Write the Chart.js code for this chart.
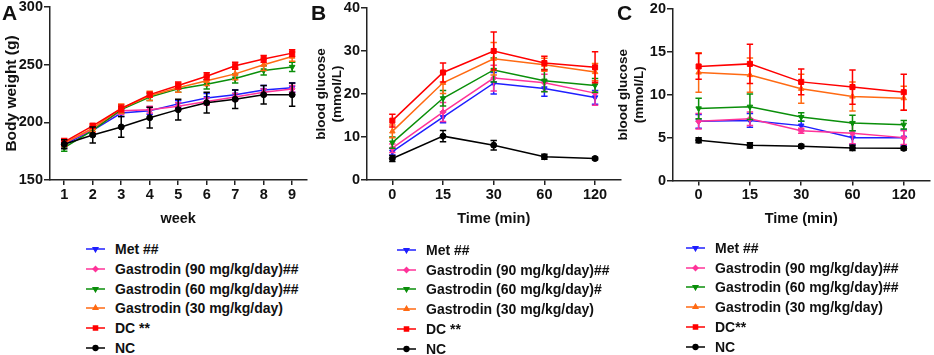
<!DOCTYPE html>
<html>
<head>
<meta charset="utf-8">
<script src="https://cdn.jsdelivr.net/npm/chart.js@4.4.1/dist/chart.umd.min.js"></script>
<style>
  html, body { margin: 0; padding: 0; background: #fff; }
  body { width: 934px; height: 355px; position: relative; overflow: hidden;
         font-family: 'Liberation Sans', Arial, sans-serif; }
  canvas.chart { position: absolute; top: 0; }
  .letter { position: absolute; font-weight: bold; font-size: 21px; line-height: 21px; color: #111; }
  .row { position: absolute; height: 18px; white-space: nowrap; }
  .row canvas { position: absolute; top: 5px; left: 0; }
  .row span { position: absolute; top: 0; font-weight: bold; font-size: 14px; line-height: 18px; color: #111; }
</style>
</head>
<body>
<canvas id="cA" class="chart" width="311" height="232" style="left:0px"></canvas>
<canvas id="cB" class="chart" width="320" height="232" style="left:305px"></canvas>
<canvas id="cC" class="chart" width="319" height="232" style="left:615px"></canvas>
<div class="letter" style="left:2px;top:2px">A</div>
<div class="letter" style="left:311px;top:2px">B</div>
<div class="letter" style="left:617px;top:2px">C</div>
<div id="legA"></div><div id="legB"></div><div id="legC"></div>
<script>
// ---------- categories ----------
const weekLabels = ['1', '2', '3', '4', '5', '6', '7', '8', '9'];
const timeLabels = ['0', '15', '30', '60', '120'];

// ---------- legend labels ----------
const legendA = ['Met ##', 'Gastrodin (90 mg/kg/day)##', 'Gastrodin (60 mg/kg/day)##', 'Gastrodin (30 mg/kg/day)', 'DC **', 'NC'];
const legendB = ['Met ##', 'Gastrodin (90 mg/kg/day)##', 'Gastrodin (60 mg/kg/day)#', 'Gastrodin (30 mg/kg/day)', 'DC **', 'NC'];
const legendC = ['Met  ##', 'Gastrodin (90 mg/kg/day)##', 'Gastrodin (60 mg/kg/day)##', 'Gastrodin (30 mg/kg/day)', 'DC**', 'NC'];

// ---------- A: body weight (g) ----------
const bwMet = [181, 193, 208, 210, 216, 221, 224, 228, 230];
const bwG90 = [182, 194, 210, 211, 214, 218, 222, 226, 229];
const bwG60 = [178, 193, 211, 222, 229, 233, 238, 245, 248];
const bwG30 = [182, 195, 212, 223, 230, 236, 242, 250, 257];
const bwDC  = [183, 197, 212, 224, 232, 240, 249, 255, 260];
const bwNC  = [181, 189, 196, 204, 211, 217, 220, 224, 224];
const bwMetSd = [3, 3, 3, 3, 3, 4, 4, 4, 4];
const bwG90Sd = [3, 3, 3, 3, 3, 3, 3, 3, 3];
const bwG60Sd = [3, 3, 3, 3, 3, 4, 4, 4, 4];
const bwG30Sd = [3, 3, 4, 4, 4, 4, 5, 5, 4];
const bwDCSd  = [3, 2, 3, 2, 3, 3, 3, 3, 3];
const bwNCSd  = [4, 7, 9, 9, 9, 9, 8, 8, 10];

// ---------- B: blood glucose, OGTT (mmol/L) ----------
const ogMet = [6.6, 14.6, 22.5, 21.3, 19.2];
const ogG90 = [7.4, 15.8, 23.7, 22.6, 20.2];
const ogG60 = [8.7, 19.0, 25.6, 23.1, 22.0];
const ogG30 = [11.3, 22.6, 28.2, 26.8, 25.1];
const ogDC  = [13.8, 25.0, 30.0, 27.2, 26.2];
const ogNC  = [5.0, 10.2, 8.1, 5.4, 5.0];
const ogMetSd = [0.8, 1.3, 2.5, 1.8, 1.6];
const ogG90Sd = [1.0, 2.2, 3.0, 2.0, 2.8];
const ogG60Sd = [1.3, 1.8, 2.8, 2.6, 1.6];
const ogG30Sd = [1.5, 2.5, 3.8, 1.5, 2.0];
const ogDCSd  = [1.5, 2.2, 4.4, 1.6, 3.6];
const ogNCSd  = [0.7, 1.3, 1.1, 0.6, 0.3];

// ---------- C: blood glucose, ITT (mmol/L) ----------
const itMet = [6.9, 7.0, 6.4, 5.0, 5.0];
const itG90 = [6.9, 7.2, 5.8, 5.5, 5.0];
const itG60 = [8.4, 8.6, 7.4, 6.7, 6.5];
const itG30 = [12.6, 12.3, 10.7, 9.8, 9.6];
const itDC  = [13.3, 13.6, 11.5, 10.9, 10.3];
const itNC  = [4.7, 4.1, 4.0, 3.8, 3.75];
const itMetSd = [0.8, 0.8, 0.5, 0.8, 0.9];
const itG90Sd = [0.9, 0.8, 0.3, 1.2, 0.8];
const itG60Sd = [1.2, 1.5, 0.5, 0.9, 0.5];
const itG30Sd = [2.3, 2.0, 1.7, 1.7, 1.4];
const itDCSd  = [1.5, 2.3, 1.5, 2.0, 2.1];
const itNCSd  = [0.3, 0.3, 0.2, 0.3, 0.2];

// ---------- styles ----------
const colors = ['#1f1fff', '#ff3399', '#0a8f0a', '#ff6a13', '#ff0000', '#000000'];
const shapes = ['triangle', 'rectRot', 'triangle', 'triangle', 'rect', 'circle'];
const rotations = [180, 0, 180, 0, 0, 0];
const radii = [3.2, 3, 3.2, 3.2, 3.6, 3];
const FONT = "'Liberation Sans', Arial, sans-serif";
const AXIS = '#222';

const errorBars = {
  id: 'errorBars',
  afterDatasetDraw(chart, args) {
    const ds = chart.data.datasets[args.index];
    if (!ds.sd) return;
    const y = chart.scales.y, ctx = chart.ctx;
    ctx.save();
    ctx.strokeStyle = ds.borderColor;
    ctx.lineWidth = 1.5;
    args.meta.data.forEach((pt, i) => {
      const v = ds.data[i], s = ds.sd[i];
      const t = y.getPixelForValue(v + s), b = y.getPixelForValue(v - s);
      ctx.beginPath();
      ctx.moveTo(pt.x, t); ctx.lineTo(pt.x, b);
      ctx.moveTo(pt.x - 3.2, t); ctx.lineTo(pt.x + 3.2, t);
      ctx.moveTo(pt.x - 3.2, b); ctx.lineTo(pt.x + 3.2, b);
      ctx.stroke();
    });
    ctx.restore();
  }
};

function makeDatasets(names, values, sds) {
  return names.map((n, i) => ({
    label: n, data: values[i], sd: sds[i],
    borderColor: colors[i], backgroundColor: colors[i],
    borderWidth: 1.5, pointStyle: shapes[i], pointRotation: rotations[i],
    pointRadius: radii[i], pointBorderWidth: 1, pointHoverRadius: radii[i],
    tension: 0, order: 6 - i
  }));
}

function makeChart(id, labels, datasets, cfg) {
  return new Chart(document.getElementById(id), {
    type: 'line',
    data: { labels, datasets },
    plugins: [errorBars],
    options: {
      responsive: false, animation: false, events: [],
      layout: { padding: { left: 0, top: cfg.padTop, right: cfg.padRight, bottom: 0 } },
      plugins: { legend: { display: false }, tooltip: { enabled: false } },
      scales: {
        x: {
          type: 'category', offset: true,
          grid: { display: true, drawOnChartArea: false, offset: false, tickLength: 5, color: AXIS, lineWidth: 1.5 },
          border: { display: true, color: AXIS, width: 1.5 },
          ticks: { color: '#111', font: { family: FONT, size: 14.5, weight: 'bold' }, padding: 1, maxRotation: 0 },
          title: { display: true, text: cfg.xTitle, color: '#111',
                   font: { family: FONT, size: 14.5, weight: 'bold' }, padding: { top: 0, bottom: 4.5 } },
          afterFit(s) { s.height = cfg.xHeight; }
        },
        y: {
          min: cfg.min, max: cfg.max,
          grid: { display: true, drawOnChartArea: false, tickLength: 6, color: AXIS, lineWidth: 1.5 },
          border: { display: true, color: AXIS, width: 1.5 },
          ticks: { stepSize: cfg.step, color: '#111', font: { family: FONT, size: 14.5, weight: 'bold' }, padding: 1 },
          title: { display: true, text: cfg.yTitle, color: '#111',
                   font: { family: FONT, size: cfg.yTitleSize, weight: 'bold', lineHeight: 1.2 },
                   padding: { top: cfg.yTitlePad, bottom: 0 } },
          afterFit(s) { s.width = cfg.yWidth; s.paddingTop = 0; s.paddingBottom = 0; }
        }
      }
    }
  });
}

makeChart('cA', weekLabels,
  makeDatasets(legendA, [bwMet, bwG90, bwG60, bwG30, bwDC, bwNC], [bwMetSd, bwG90Sd, bwG60Sd, bwG30Sd, bwDCSd, bwNCSd]),
  { min: 150, max: 300, step: 50, padTop: 7, padRight: 2, xHeight: 52, yWidth: 50,
    xTitle: 'week', yTitle: 'Body weight (g)', yTitleSize: 15.5, yTitlePad: 2.7 });

makeChart('cB', timeLabels,
  makeDatasets(legendB, [ogMet, ogG90, ogG60, ogG30, ogDC, ogNC], [ogMetSd, ogG90Sd, ogG60Sd, ogG30Sd, ogDCSd, ogNCSd]),
  { min: 0, max: 40, step: 10, padTop: 8, padRight: 1.5, xHeight: 52, yWidth: 62,
    xTitle: 'Time (min)', yTitle: ['blood glucose', '(mmol/L)'], yTitleSize: 13.5, yTitlePad: 7.9 });

makeChart('cC', timeLabels,
  makeDatasets(legendC, [itMet, itG90, itG60, itG30, itDC, itNC], [itMetSd, itG90Sd, itG60Sd, itG30Sd, itDCSd, itNCSd]),
  { min: 0, max: 20, step: 5, padTop: 9, padRight: 2, xHeight: 51.5, yWidth: 58,
    xTitle: 'Time (min)', yTitle: ['blood glucose', '(mmol/L)'], yTitleSize: 13.5, yTitlePad: 0 });

// ---------- HTML legends ----------
function makeLegend(id, names, sampleX, textX, firstY, gap) {
  const host = document.getElementById(id);
  names.forEach((n, i) => {
    const row = document.createElement('div');
    row.className = 'row';
    row.style.left = sampleX + 'px';
    row.style.top = (firstY + i * gap - 9) + 'px';
    const c = document.createElement('canvas');
    c.width = 19; c.height = 8;
    const ctx = c.getContext('2d');
    ctx.strokeStyle = colors[i]; ctx.fillStyle = colors[i]; ctx.lineWidth = 1.5;
    ctx.beginPath(); ctx.moveTo(0, 4); ctx.lineTo(19, 4); ctx.stroke();
    Chart.helpers.drawPoint(ctx, { pointStyle: shapes[i], radius: radii[i] * 0.8, rotation: rotations[i], borderWidth: 1 }, 9.5, 4);
    row.appendChild(c);
    const sp = document.createElement('span');
    sp.style.left = (textX - sampleX) + 'px';
    sp.textContent = n;
    row.appendChild(sp);
    host.appendChild(row);
  });
}
makeLegend('legA', legendA, 86, 115, 249, 19.75);
makeLegend('legB', legendB, 397, 426, 250, 19.7);
makeLegend('legC', legendC, 686, 715, 247.7, 19.8);
</script>
</body>
</html>
